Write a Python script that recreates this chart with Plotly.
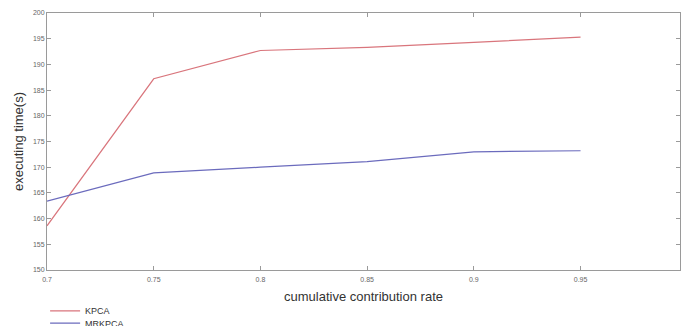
import plotly.graph_objects as go

x_rate = [0.7, 0.75, 0.8, 0.85, 0.9, 0.95]
kpca = [158.6, 187.2, 192.7, 193.3, 194.3, 195.3]
mrkpca = [163.4, 168.9, 170.0, 171.1, 173.0, 173.2]
x_ticks = [0.7, 0.75, 0.8, 0.85, 0.9, 0.95]
x_tick_text = ["0.7", "0.75", "0.8", "0.85", "0.9", "0.95"]
y_ticks = [150, 155, 160, 165, 170, 175, 180, 185, 190, 195, 200]

FONT = "Liberation Sans, Arial, sans-serif"

fig = go.Figure()
fig.add_trace(go.Scatter(x=x_rate, y=kpca, mode="lines", name="KPCA", legend="legend",
                         line=dict(color="#d9757c", width=1.2)))
fig.add_trace(go.Scatter(x=x_rate, y=mrkpca, mode="lines", name="MRKPCA", legend="legend2",
                         line=dict(color="#6b6bbd", width=1.2)))

axis_common = dict(showgrid=False, zeroline=False, showline=True, linecolor="#9a9a9a",
                   linewidth=1, mirror="ticks", ticks="inside", ticklen=4,
                   tickcolor="#9a9a9a", tickwidth=1, automargin=False,
                   tickfont=dict(family=FONT, size=7, color="#666666"))

leg_common = dict(xanchor="left", yanchor="top",
                  font=dict(family=FONT, size=9, color="#333333"),
                  bgcolor="rgba(0,0,0,0)", itemwidth=30, tracegroupgap=0)

fig.update_layout(
    width=681, height=340,
    margin=dict(l=47, r=1, t=13, b=70, autoexpand=False),
    paper_bgcolor="white", plot_bgcolor="white",
    hovermode=False,
    xaxis=dict(range=[0.7, 0.9966], tickvals=x_ticks, ticktext=x_tick_text,
               ticklabelstandoff=3,
               title=dict(text="cumulative contribution rate", standoff=9,
                          font=dict(family=FONT, size=13, color="#333333")),
               **axis_common),
    yaxis=dict(range=[150, 200], tickvals=y_ticks,
               title=dict(text="executing time(s)", standoff=6,
                          font=dict(family=FONT, size=13, color="#333333")),
               **axis_common),
    showlegend=True,
    legend=dict(x=-0.003, y=-0.103, **leg_common),
    legend2=dict(x=-0.003, y=-0.150, **leg_common),
)

fig.write_html(
    "out.html",
    config={"displayModeBar": False},
    post_script="document.body.style.margin='0';document.body.style.overflow='hidden';",
)
